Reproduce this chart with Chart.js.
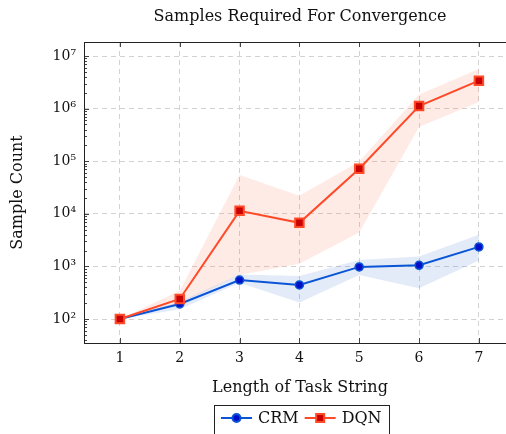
<!DOCTYPE html>
<html>
<head>
<meta charset="utf-8">
<script src="https://cdn.jsdelivr.net/npm/chart.js@4.4.0/dist/chart.umd.min.js"></script>
<style>
html,body{margin:0;padding:0;background:#fff;overflow:hidden}
#wrap{width:506px;height:434px;overflow:hidden}
</style>
</head>
<body>
<div id="wrap"><canvas id="conv" width="524" height="434"></canvas></div>
<script>
const taskLength=[1,2,3,4,5,6,7]
const crmMean=[100,193,550,445,980,1050,2350]
const crmLow=[100,153,490,205,690,385,1290]
const crmHigh=[100,214,700,660,1330,1540,4000]
const dqnMean=[100,240,11400,6750,72000,1120000,3400000]
const dqnLow=[100,200,690,1120,4400,450000,1340000]
const dqnHigh=[100,346,55000,22000,99000,1850000,5700000]
const yTicks=[1e2,1e3,1e4,1e5,1e6,1e7]
const seriesNames=["CRM","DQN"]

const serif="'DejaVu Serif', serif"
const crmLine="#0a55d6", crmDot="#0010c8"
const dqnLine="#ff4a2a", dqnDot="#c80000"
const sup="⁰¹²³⁴⁵⁶⁷⁸⁹"

const pts=arr=>taskLength.map((t,i)=>({x:t,y:arr[i]}))

// title, frame, inward ticks and the boxed legend
const decor={
  id:"decor",
  afterDatasetsDraw(chart){
    const {ctx,chartArea:a,scales:{x,y}}=chart
    ctx.save()
    ctx.strokeStyle="#444"
    ctx.lineWidth=1
    ctx.beginPath()
    for(let e=1;e<=7;e++){
      for(let m=1;m<10;m++){
        const v=m*Math.pow(10,e)
        if(v<y.min||v>y.max) continue
        const py=Math.round(y.getPixelForValue(v))+0.5
        const len=m===1?5:3
        ctx.moveTo(a.left,py);ctx.lineTo(a.left+len,py)
        ctx.moveTo(a.right,py);ctx.lineTo(a.right-len,py)
      }
    }
    taskLength.forEach(t=>{
      const px=Math.round(x.getPixelForValue(t))+0.5
      ctx.moveTo(px,a.top);ctx.lineTo(px,a.top+5)
      ctx.moveTo(px,a.bottom);ctx.lineTo(px,a.bottom-5)
    })
    ctx.stroke()
    ctx.strokeStyle="#222"
    ctx.strokeRect(Math.round(a.left)+0.5,Math.round(a.top)+0.5,a.right-a.left,a.bottom-a.top)
    ctx.restore()
  },
  afterDraw(chart){
    const {ctx,chartArea:a}=chart
    const cx=(a.left+a.right)/2
    ctx.save()
    ctx.fillStyle="#111"
    ctx.font="16px "+serif
    ctx.textAlign="center"
    ctx.textBaseline="middle"
    ctx.fillText("Samples Required For Convergence",cx,17)

    // legend
    ctx.font="16px "+serif
    const lineLen=31,gap=6,pad=7
    const w0=ctx.measureText(seriesNames[0]).width
    const w1=ctx.measureText(seriesNames[1]).width
    const boxW=pad+lineLen+gap+w0+gap+lineLen+gap+w1+pad
    const left=Math.round(cx+1-boxW/2)
    const top=405,ly=418
    ctx.strokeStyle="#222"
    ctx.lineWidth=1
    ctx.strokeRect(left+0.5,top+0.5,Math.round(boxW),40)
    let xx=left+pad
    const item=(name,col,dot,isSquare,w)=>{
      ctx.strokeStyle=col
      ctx.lineWidth=2
      ctx.beginPath();ctx.moveTo(xx,ly);ctx.lineTo(xx+lineLen,ly);ctx.stroke()
      const mx=xx+lineLen/2
      if(isSquare){
        ctx.fillStyle=dot
        ctx.fillRect(mx-4,ly-4,8,8)
        ctx.strokeRect(mx-4,ly-4,8,8)
      }else{
        ctx.fillStyle=dot
        ctx.beginPath();ctx.arc(mx,ly,4,0,Math.PI*2);ctx.fill();ctx.stroke()
      }
      ctx.fillStyle="#111"
      ctx.textAlign="left"
      ctx.fillText(name,xx+lineLen+gap,ly+1)
      xx+=lineLen+gap+w+gap
    }
    item(seriesNames[0],crmLine,crmDot,false,w0)
    item(seriesNames[1],dqnLine,dqnDot,true,w1)
    ctx.restore()
  }
}

new Chart(document.getElementById("conv"),{
  type:"line",
  data:{
    datasets:[
      {
        label:seriesNames[1],
        data:pts(dqnMean),
        borderColor:dqnLine,
        borderWidth:2,
        pointStyle:"rect",
        pointRadius:6,
        pointBorderWidth:2,
        pointBackgroundColor:dqnDot,
        pointBorderColor:dqnLine,
        fill:false,
      },
      {
        label:seriesNames[0],
        data:pts(crmMean),
        borderColor:crmLine,
        borderWidth:2,
        pointStyle:"circle",
        pointRadius:4,
        pointBorderWidth:1.5,
        pointBackgroundColor:crmDot,
        pointBorderColor:crmLine,
        fill:false,
      },
      {data:pts(crmHigh),borderWidth:0,pointRadius:0,fill:"+1",backgroundColor:"rgba(70,120,210,0.15)"},
      {data:pts(crmLow),borderWidth:0,pointRadius:0,fill:false},
      {data:pts(dqnHigh),borderWidth:0,pointRadius:0,fill:"+1",backgroundColor:"rgba(255,110,80,0.14)"},
      {data:pts(dqnLow),borderWidth:0,pointRadius:0,fill:false},
    ],
  },
  options:{
    responsive:false,
    animation:false,
    layout:{padding:{top:42,right:8,left:4,bottom:38}},
    plugins:{
      legend:{display:false},
      title:{display:false},
      tooltip:{enabled:false},
    },
    scales:{
      x:{
        type:"linear",
        min:0.4,
        max:7.62,
        afterBuildTicks:s=>{s.ticks=taskLength.map(v=>({value:v}))},
        afterFit:s=>{s.height=53},
        border:{display:false,dash:[5,4]},
        grid:{color:"#d2d2d2",drawTicks:false},
        ticks:{color:"#111",padding:7,font:{family:serif,size:14}},
        title:{display:true,text:"Length of Task String",color:"#111",padding:{bottom:-1},font:{family:serif,size:16}},
      },
      y:{
        type:"logarithmic",
        min:35,
        max:1.85e7,
        afterBuildTicks:s=>{s.ticks=yTicks.map(v=>({value:v}))},
        afterFit:s=>{s.width=80},
        border:{display:false,dash:[5,4]},
        grid:{color:"#d2d2d2",drawTicks:false},
        ticks:{
          color:"#111",
          padding:8,
          font:{family:serif,size:14},
          callback:v=>"10"+sup[Math.round(Math.log10(v))],
        },
        title:{display:true,text:"Sample Count",color:"#111",padding:{top:4},font:{family:serif,size:16}},
      },
    },
  },
  plugins:[decor],
})
</script>
</body>
</html>
